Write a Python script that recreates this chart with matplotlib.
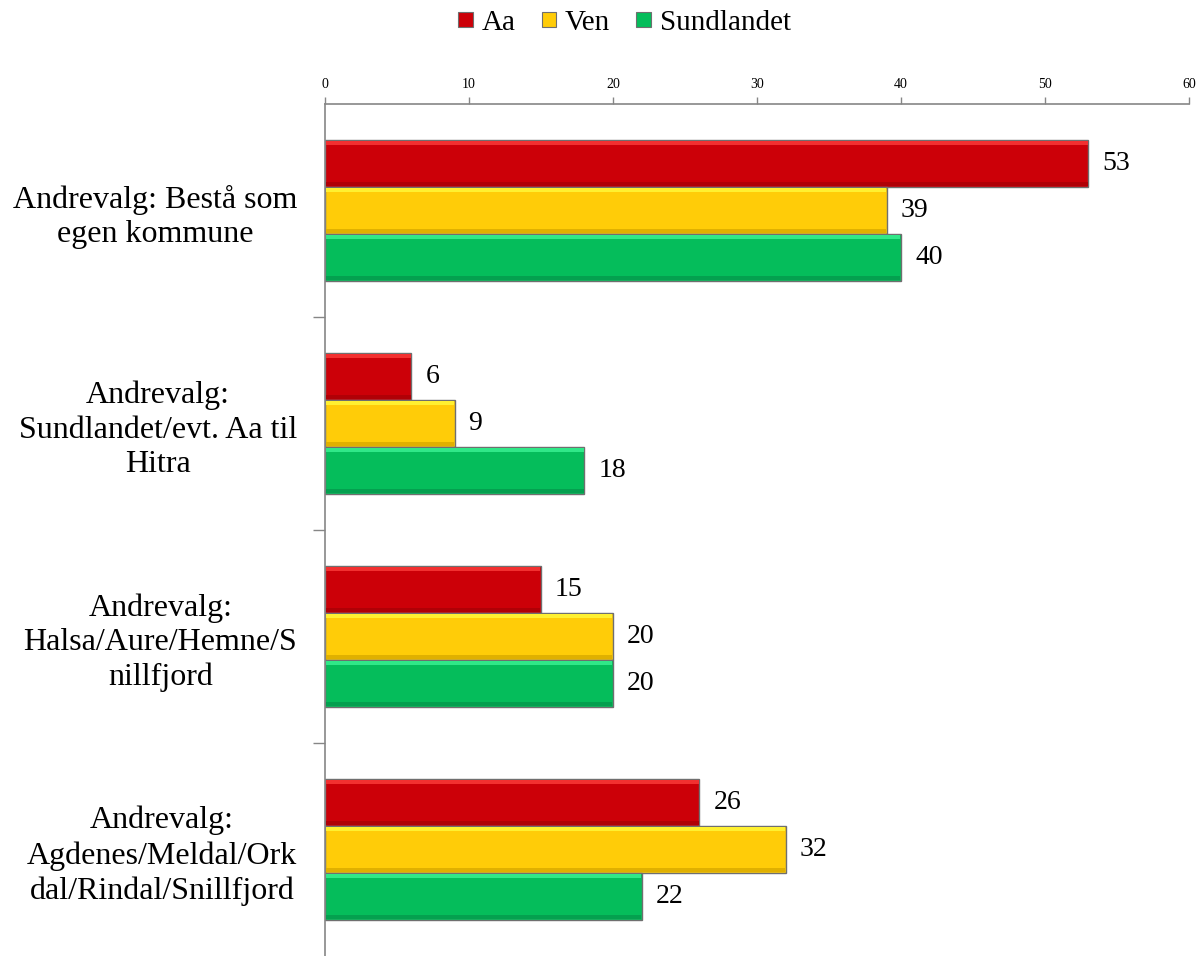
"""Andrevalg per krets, horisontale stolper med skrå kant."""

import matplotlib

matplotlib.use("Agg")

import matplotlib.pyplot as plt
import numpy as np
from matplotlib.patches import Patch
from matplotlib.transforms import offset_copy

CATEGORIES = [
    "Andrevalg: Bestå som\negen kommune",
    "Andrevalg:\nSundlandet/evt. Aa til\nHitra",
    "Andrevalg:\nHalsa/Aure/Hemne/S\nnillfjord",
    "Andrevalg:\nAgdenes/Meldal/Ork\ndal/Rindal/Snillfjord",
]
SERIES = ["Aa", "Ven", "Sundlandet"]
AA = [53, 6, 15, 26]
VEN = [39, 9, 20, 32]
SUNDLANDET = [40, 18, 20, 22]
X_TICKS = [0, 10, 20, 30, 40, 50, 60]

COLORS = {"Aa": "#cc0008", "Ven": "#ffcc08", "Sundlandet": "#05bd5b"}
LIGHT = {"Aa": "#f23030", "Ven": "#fff030", "Sundlandet": "#30e888"}
DARK = {"Aa": "#b00006", "Ven": "#e0b000", "Sundlandet": "#04a04f"}

plt.rcParams["font.family"] = ["Liberation Serif", "DejaVu Serif"]

fig = plt.figure(figsize=(12.03, 9.56), dpi=100)
ax = fig.add_axes([325 / 1203, 0.0, 864 / 1203, 1 - 104 / 956])

y = np.arange(len(CATEGORIES))
bar_h = 0.22
values = {"Aa": AA, "Ven": VEN, "Sundlandet": SUNDLANDET}
label_tf = offset_copy(ax.transData, fig=fig, x=14, y=0, units="dots")

for i, name in enumerate(SERIES):
    vals = np.asarray(values[name], dtype=float)
    pos = y + (i - 1) * bar_h
    ax.barh(pos, vals, height=bar_h, color=COLORS[name], edgecolor="#6f6f6f",
            linewidth=1.0, zorder=2)
    # bevel: light strip on top, darker strip at bottom
    strip = bar_h * 0.08
    ax.barh(pos - bar_h / 2 + strip / 2 + 0.004, vals - 0.08, height=strip, left=0.04,
            color=LIGHT[name], linewidth=0, zorder=3)
    ax.barh(pos + bar_h / 2 - strip / 2 - 0.004, vals - 0.08, height=strip, left=0.04,
            color=DARK[name], linewidth=0, zorder=3)
    for p, v in zip(pos, vals):
        ax.text(v, p, f"{v:g}", transform=label_tf, ha="left", va="center",
                fontsize=20, color="black")

ax.set_xlim(0, 60)
ax.set_ylim(len(CATEGORIES) - 0.5, -0.5)
ax.xaxis.tick_top()
ax.set_xticks(X_TICKS)
ax.tick_params(axis="x", which="major", direction="out", length=5, width=1,
               color="#868686", labelsize=10, pad=4)

ax.set_yticks(np.arange(len(CATEGORIES) - 1) + 0.5)
ax.set_yticklabels([])
ax.set_yticks(y, minor=True)
ax.set_yticklabels(CATEGORIES, minor=True, fontsize=23)
ax.tick_params(axis="y", which="major", direction="out", length=9, width=1, color="#868686")
ax.tick_params(axis="y", which="minor", length=0, pad=20)
for lbl in ax.get_yticklabels(minor=True):
    lbl.set_multialignment("center")
    lbl.set_linespacing(1.25)

for side in ["right", "bottom"]:
    ax.spines[side].set_visible(False)
for side in ["top", "left"]:
    ax.spines[side].set_color("#868686")
    ax.spines[side].set_linewidth(1.2)

handles = [Patch(facecolor=COLORS[n], edgecolor="#6f6f6f", linewidth=0.8) for n in SERIES]
fig.legend(handles, SERIES, loc="center", bbox_to_anchor=(0.519, 0.976), ncol=3,
           frameon=False, fontsize=21, handlelength=0.5, handleheight=0.4,
           handletextpad=0.3, columnspacing=0.9)

fig.savefig("out.png", dpi=100)
